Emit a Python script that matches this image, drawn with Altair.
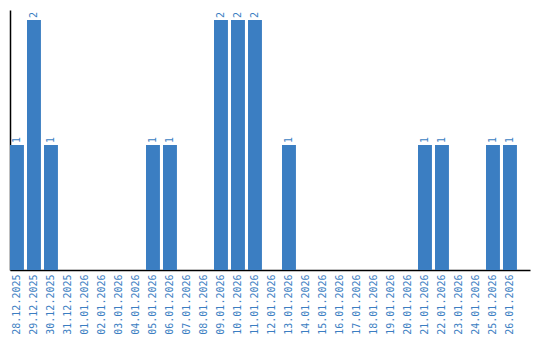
import altair as alt
import pandas as pd

dates = ["28.12.2025", "29.12.2025", "30.12.2025", "31.12.2025", "01.01.2026",
         "02.01.2026", "03.01.2026", "04.01.2026", "05.01.2026", "06.01.2026",
         "07.01.2026", "08.01.2026", "09.01.2026", "10.01.2026", "11.01.2026",
         "12.01.2026", "13.01.2026", "14.01.2026", "15.01.2026", "16.01.2026",
         "17.01.2026", "18.01.2026", "19.01.2026", "20.01.2026", "21.01.2026",
         "22.01.2026", "23.01.2026", "24.01.2026", "25.01.2026", "26.01.2026"]
counts = [1, 2, 1, 0, 0, 0, 0, 0, 1, 1, 0, 0, 2, 2, 2, 0, 1, 0, 0, 0, 0, 0, 0, 0, 1, 1, 0, 0, 1, 1]

df = pd.DataFrame({"date": dates, "count": counts})
BLUE = "#3b7ec2"
FONT = "DejaVu Sans Mono"

x = alt.X("date:N", sort=dates, title=None,
          scale=alt.Scale(paddingInner=0.18, paddingOuter=0.384, align=0),
          axis=alt.Axis(labelAngle=270, labelAlign="right", labelBaseline="middle",
                        labelPadding=4, ticks=False, domainColor="black", domainWidth=1.5,
                        labelColor=BLUE, labelFont=FONT, labelFontSize=10))
y = alt.Y("count:Q", title=None,
          scale=alt.Scale(domain=[0, 2.08], nice=False),
          axis=alt.Axis(labels=False, ticks=False, grid=False, domainColor="black", domainWidth=1.5))

bars = alt.Chart(df).mark_bar(color=BLUE).encode(x=x, y=y)
labels = alt.Chart(df).transform_filter("datum.count > 0").mark_text(
    angle=270, align="left", baseline="middle", dx=2, color=BLUE, font=FONT, fontSize=10
).encode(x=alt.X("date:N", sort=dates), y="count:Q", text="count:Q")

chart = (bars + labels).properties(
    width=520, height=260,
    autosize=alt.AutoSizeParams(type="none"),
    padding={"left": 10, "top": 10, "right": 10, "bottom": 70},
    background="white",
).configure_view(stroke=None)

chart.save("out.html", embed_options={"renderer": "svg", "actions": False})
